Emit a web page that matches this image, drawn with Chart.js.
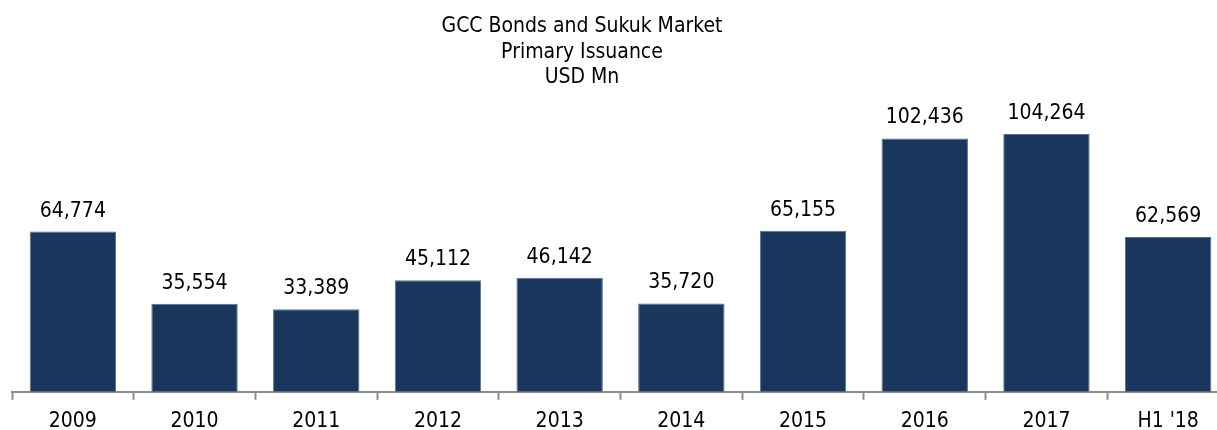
<!DOCTYPE html>
<html>
<head>
<meta charset="utf-8">
<script src="https://cdn.jsdelivr.net/npm/chart.js@4"></script>
<style>
  html, body { margin: 0; padding: 0; overflow: hidden; background: #fff; }
  #wrap { width: 1217px; height: 430px; overflow: hidden; position: relative; }
  #c { display: block; width: 1229px; height: 443px; }
</style>
</head>
<body>
<div id="wrap"><canvas id="c" width="1229" height="443"></canvas></div>
<script>
const categories = ["2009", "2010", "2011", "2012", "2013", "2014", "2015", "2016", "2017", "H1 '18"];
const issuance = [64774, 35554, 33389, 45112, 46142, 35720, 65155, 102436, 104264, 62569];
const titleLines = ["GCC Bonds and Sukuk Market", "Primary Issuance", "USD Mn"];

const FONT = "'DejaVu Sans Condensed', 'DejaVu Sans', sans-serif";
const FS = 21;

const titlePlugin = {
  id: 'customTitle',
  afterDraw(chart) {
    const ctx = chart.ctx;
    ctx.save();
    ctx.fillStyle = '#000';
    ctx.font = FS + 'px ' + FONT;
    ctx.textAlign = 'center';
    ctx.textBaseline = 'alphabetic';
    titleLines.forEach((t, i) => ctx.fillText(t, 582, 32 + i * 25.5));
    ctx.restore();
  }
};

const labelPlugin = {
  id: 'valueLabels',
  afterDatasetsDraw(chart) {
    const ctx = chart.ctx;
    const meta = chart.getDatasetMeta(0);
    ctx.save();
    ctx.fillStyle = '#000';
    ctx.font = FS + 'px ' + FONT;
    ctx.textAlign = 'center';
    ctx.textBaseline = 'alphabetic';
    meta.data.forEach((bar, i) => {
      ctx.fillText(issuance[i].toLocaleString('en-US'), bar.x, bar.y - 15);
    });
    ctx.restore();
  }
};

new Chart(document.getElementById('c'), {
  type: 'bar',
  data: {
    labels: categories,
    datasets: [{
      data: issuance,
      backgroundColor: '#1b365d',
      borderColor: '#5b6f8d',
      borderWidth: { top: 1, left: 1, right: 1, bottom: 0 },
      borderSkipped: 'bottom',
      barPercentage: 0.71,
      categoryPercentage: 1.0
    }]
  },
  options: {
    responsive: false,
    maintainAspectRatio: false,
    animation: false,
    layout: { padding: { top: 95, left: 12, right: 0, bottom: 0 } },
    plugins: {
      legend: { display: false },
      title: { display: false },
      tooltip: { enabled: false }
    },
    scales: {
      x: {
        grid: {
          display: true,
          drawOnChartArea: false,
          drawTicks: true,
          tickLength: 8,
          tickColor: '#8c8c8c',
          tickWidth: 2,
          offset: true
        },
        border: { display: true, color: '#8c8c8c', width: 2 },
        ticks: {
          color: '#000',
          font: { family: FONT, size: FS },
          padding: 9,
          maxRotation: 0,
          autoSkip: false
        }
      },
      y: {
        display: false,
        min: 0,
        max: 120000
      }
    }
  },
  plugins: [titlePlugin, labelPlugin]
});
</script>
</body>
</html>
